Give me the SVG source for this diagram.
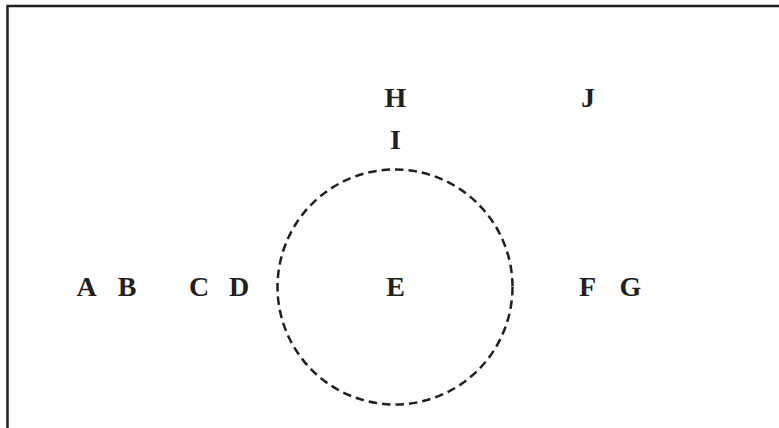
<svg xmlns="http://www.w3.org/2000/svg" width="779" height="428" viewBox="0 0 779 428">
<style>
.lbl{font-family:"Liberation Serif","Times New Roman",serif;font-weight:bold;font-size:28px;fill:#231f20;text-anchor:middle}
.frame{fill:none;stroke:#231f20;stroke-width:2.5}
.dash{fill:none;stroke:#231f20;stroke-width:2.5;stroke-dasharray:8.5 5}
</style>
<rect width="779" height="428" fill="#fff"/>
<rect class="frame" x="7.5" y="6" width="790" height="440"/>
<g id="connectors"></g>
<g id="circle"><circle class="dash" cx="395" cy="287" r="117.5"/></g>
<g id="A"><text class="lbl" x="86.5" y="296">A</text></g>
<g id="B"><text class="lbl" x="127" y="296">B</text></g>
<g id="C"><text class="lbl" x="199" y="296">C</text></g>
<g id="D"><text class="lbl" x="239" y="296">D</text></g>
<g id="E"><text class="lbl" x="395.5" y="296">E</text></g>
<g id="F"><text class="lbl" x="587.5" y="296">F</text></g>
<g id="G"><text class="lbl" x="630.5" y="296">G</text></g>
<g id="H"><text class="lbl" x="395.5" y="106.5">H</text></g>
<g id="I"><text class="lbl" x="395.5" y="149">I</text></g>
<g id="J"><text class="lbl" x="588" y="106.5">J</text></g>
</svg>
